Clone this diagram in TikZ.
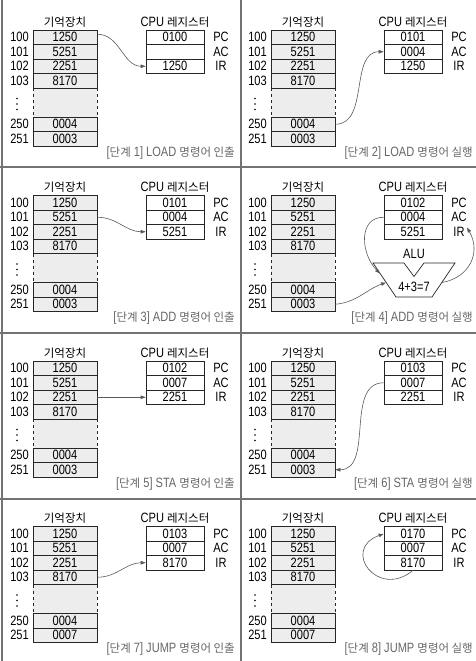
\documentclass[tikz,border=0pt]{standalone}
\usepackage{fontspec}
\setmainfont[FakeStretch=0.82]{Liberation Sans}
\newfontfamily\kr[Scale=0.85]{Noto Sans CJK KR}
\usetikzlibrary{arrows.meta}

% #1 step, #2 instruction, #3 phase, #4 PC, #5 AC, #6 IR, #7 word at 251
\newcommand{\cpupanel}[7]{%
    % Speicher.
    \node[headline] (memtitle) at (65,22) {\kr 기억장치};
    \fill[black!7] (33,88) rectangle (97,117);
    \draw[black!85, line width=.6pt, dashed] (33,88) -- (33,117);
    \draw[black!85, line width=.6pt, dashed] (97,88) -- (97,117);
    \foreach \adr/\val/\row in {100/1250/0, 101/5251/1, 102/2251/2, 103/8170/3, 250/0004/6, 251/#7/7}
    {
        \node[memcell] (m\adr) at (65,37.25+14.5*\row) {\val};
        \node[addr] (a\adr) at (29,37.25+14.5*\row) {\adr};
    }
    \foreach \d in {0,1,2}
    {
        \fill (17,98.5+5.5*\d) circle (.9pt);
    }
    % Register.
    \node[headline] (cputitle) at (175,22) {CPU {\kr 레지스터}};
    \foreach \reg/\val/\row in {PC/#4/0, AC/#5/1, IR/#6/2}
    {
        \node[regcell] (\reg) at (175,37.25+14.5*\row) {\val};
        \node[reglabel] (l\reg) at (221,37.25+14.5*\row) {\reg};
    }
    % Beschriftung.
    \node[captext] (caption) at (235,153) {[{\kr 단계} #1] #2 {\kr 명령어 #3}};
}

\begin{document}
\begin{tikzpicture}[x=1pt, y=-1pt, font=\fontsize{13.5}{15}\selectfont,
    memcell/.style={draw=black!85, fill=black!7, line width=.6pt, minimum width=64pt, minimum height=14.5pt, inner sep=0pt},
    regcell/.style={draw=black!85, fill=white, line width=.6pt, minimum width=58pt, minimum height=14.5pt, inner sep=0pt},
    addr/.style={anchor=east, inner sep=0pt},
    reglabel/.style={inner sep=0pt},
    headline/.style={inner sep=0pt},
    captext/.style={anchor=east, inner sep=0pt, text=black!60},
    flow/.style={draw=black!65, line width=.6pt, -{Triangle[length=5pt, width=3.5pt]}},
    divider/.style={draw=black!55, line width=1.2pt},
    alu/.style={draw=black!85, fill=white, line width=.7pt}]
    \useasboundingbox (0,0) rectangle (476,661);
    % Rahmen.
    \draw[divider] (2,0) -- (2,661);
    \draw[divider] (241,0) -- (241,661);
    \foreach \y in {167,333,499}
    {
        \draw[divider] (0,\y) -- (476,\y);
    }

    % Schritt 1.
    \begin{scope}[shift={(0,0)}, name prefix=s1-]
        \cpupanel{1}{LOAD}{인출}{0100}{}{1250}{0003}
        \draw[flow] ([yshift=3pt]m100.east) to[out=0, in=180] (IR.west);
    \end{scope}
    % Schritt 2.
    \begin{scope}[shift={(238,0)}, name prefix=s2-]
        \cpupanel{2}{LOAD}{실행}{0101}{0004}{1250}{0003}
        \draw[flow] (m250.east) to[out=0, in=180] (AC.west);
    \end{scope}
    % Schritt 3.
    \begin{scope}[shift={(0,165.5)}, name prefix=s3-]
        \cpupanel{3}{ADD}{인출}{0101}{0004}{5251}{0003}
        \draw[flow] (m101.east) to[out=0, in=180] (IR.west);
    \end{scope}
    % Schritt 4.
    \begin{scope}[shift={(238,165.5)}, name prefix=s4-]
        \cpupanel{4}{ADD}{실행}{0102}{0004}{5251}{0003}
        \draw[alu] (135,97.5) -- (166,97.5) -- (176,111) -- (186,97.5) -- (217,97.5) -- (194,131.5) -- (158,131.5) -- cycle;
        \node (alu) at (176,88) {ALU};
        \node (sum) at (176,121.5) {4+3=7};
        \coordinate (aluin1) at (142,108);
        \coordinate (aluin2) at (148,117);
        \coordinate (aluout) at (204,117);
        \coordinate (acin) at (229,62);
        \draw[flow] (AC.west) to[out=180, in=135, looseness=1.2] (aluin1);
        \draw[flow] (m251.east) to[out=5, in=-160] (aluin2);
        \draw[flow] (aluout) to[out=10, in=-60, looseness=1.2] (acin);
    \end{scope}
    % Schritt 5.
    \begin{scope}[shift={(0,331)}, name prefix=s5-]
        \cpupanel{5}{STA}{인출}{0102}{0007}{2251}{0003}
        \draw[flow] (m102.east) -- (IR.west);
    \end{scope}
    % Schritt 6.
    \begin{scope}[shift={(238,331)}, name prefix=s6-]
        \cpupanel{6}{STA}{실행}{0103}{0007}{2251}{0003}
        \draw[flow] (AC.west) to[out=180, in=0] (m251.east);
    \end{scope}
    % Schritt 7.
    \begin{scope}[shift={(0,496.5)}, name prefix=s7-]
        \cpupanel{7}{JUMP}{인출}{0103}{0007}{8170}{0007}
        \draw[flow] (m103.east) to[out=0, in=180] (IR.west);
    \end{scope}
    % Schritt 8.
    \begin{scope}[shift={(238,496.5)}, name prefix=s8-]
        \cpupanel{8}{JUMP}{실행}{0170}{0007}{8170}{0007}
        \draw[flow] (IR.south) to[out=-140, in=-160, looseness=2.5] (PC.west);
    \end{scope}
\end{tikzpicture}
\end{document}
